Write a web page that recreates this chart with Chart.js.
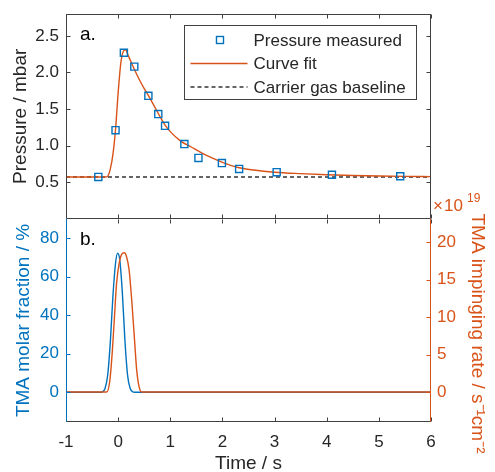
<!DOCTYPE html>
<html>
<head>
<meta charset="utf-8">
<script src="https://cdn.jsdelivr.net/npm/chart.js@4"></script>
<style>
html, body { margin: 0; padding: 0; background: #fff; overflow: hidden; width: 495px; height: 472px; }
#chartTop { position: absolute; left: 0; top: 0; }
#chartBot { position: absolute; left: 0; top: 185px; }
</style>
</head>
<body>
<canvas id="chartTop" width="495" height="225"></canvas>
<canvas id="chartBot" width="495" height="295"></canvas>
<script>
// ticks
const xTicks = [-1, 0, 1, 2, 3, 4, 5, 6];
const pressureTicks = [0.5, 1.0, 1.5, 2.0, 2.5];
const fractionTicks = [0, 20, 40, 60, 80];
const rateTicks = [0, 5, 10, 15, 20];

// panel a
const measuredTime = [-0.38, -0.05, 0.11, 0.31, 0.58, 0.77, 0.90, 1.27, 1.54, 1.99, 2.32, 3.04, 4.10, 5.41];
const measuredPressure = [0.57, 1.21, 2.27, 2.08, 1.68, 1.43, 1.27, 1.02, 0.83, 0.76, 0.68, 0.635, 0.60, 0.58];

const fitTime = [-1, -0.5, -0.25, -0.2, -0.15, -0.1, -0.05, 0, 0.05, 0.1, 0.14, 0.2, 0.3, 0.4, 0.5, 0.6, 0.7, 0.8, 0.9, 1.0, 1.2, 1.4, 1.6, 1.8, 2.0, 2.3, 2.6, 3.0, 3.5, 4.0, 4.5, 5.0, 5.5, 6.0];
const fitPressure = [0.57, 0.57, 0.57, 0.58, 0.68, 0.88, 1.22, 1.72, 2.12, 2.29, 2.31, 2.22, 2.06, 1.91, 1.78, 1.66, 1.53, 1.40, 1.28, 1.19, 1.06, 0.98, 0.90, 0.83, 0.77, 0.70, 0.665, 0.635, 0.615, 0.60, 0.59, 0.583, 0.578, 0.575];

const baselineTime = [-1, 6];
const baselinePressure = [0.57, 0.57];

// panel b
const fractionTime = [-1, -0.32, -0.3, -0.25, -0.2, -0.15, -0.1, -0.05, -0.01, 0.03, 0.08, 0.13, 0.18, 0.23, 0.28, 0.32, 6];
const fractionValue = [0, 0, 0.2, 2, 9, 26, 50, 67, 72.2, 69, 52, 27, 9, 2, 0.2, 0, 0];

const rateTime = [-1, -0.22, -0.16, -0.11, -0.07, -0.03, 0.02, 0.07, 0.12, 0.16, 0.21, 0.26, 0.31, 0.355, 0.40, 0.45, 6];
const rateValue = [0, 0, 1.5, 5.6, 10.1, 14.5, 17.2, 18.4, 18.6, 18.1, 16.3, 12.3, 7.4, 3.0, 0.75, 0, 0];

const rateTitle = 'TMA impinging rate / s\u207b\u00b9cm\u207b\u00b2';

const BLUE = '#0072BD';
const ORANGE = '#D95319';
const AXIS = '#404040';
const TEXT = '#262626';
const FONT = "'Liberation Sans', Arial, sans-serif";

function pts(xs, ys) {
    return xs.map((x, i) => ({ x: x, y: ys[i] }));
}

function fixTicks(list) {
    return function (s) { s.ticks = list.map(v => ({ value: v })); };
}

function fitWidth(w) {
    return function (s) { s.width = w; s.paddingTop = 0; s.paddingBottom = 0; };
}
function fitHeight(h) {
    return function (s) { s.height = h; s.paddingLeft = 0; s.paddingRight = 0; };
}

// box + inward ticks, like matlab
const framePlugin = {
    id: 'frame',
    afterDraw(chart, args, o) {
        const { ctx, chartArea: a, scales } = chart;
        const L = Math.round(a.left) + 0.5, R = Math.round(a.right) - 0.5;
        const T = Math.round(a.top) + 0.5, B = Math.round(a.bottom) - 0.5;
        const len = 4;
        ctx.save();
        ctx.lineWidth = 1;

        // x ticks
        ctx.strokeStyle = AXIS;
        ctx.beginPath();
        scales.x.ticks.forEach(t => {
            const px = Math.round(scales.x.getPixelForValue(t.value)) + 0.5;
            ctx.moveTo(px, B); ctx.lineTo(px, B - len);
            ctx.moveTo(px, T); ctx.lineTo(px, T + len);
        });
        ctx.stroke();

        // left ticks
        const ly = scales[o.leftScale];
        ctx.strokeStyle = o.leftColor;
        ctx.beginPath();
        ly.ticks.forEach(t => {
            const py = Math.round(ly.getPixelForValue(t.value)) + 0.5;
            ctx.moveTo(L, py); ctx.lineTo(L + len, py);
        });
        ctx.stroke();

        // right ticks
        const ry = scales[o.rightScale];
        ctx.strokeStyle = o.rightColor;
        ctx.beginPath();
        ry.ticks.forEach(t => {
            const py = Math.round(ry.getPixelForValue(t.value)) + 0.5;
            ctx.moveTo(R, py); ctx.lineTo(R - len, py);
        });
        ctx.stroke();

        // box lines
        ctx.strokeStyle = AXIS;
        ctx.beginPath();
        ctx.moveTo(L, B); ctx.lineTo(R, B);
        if (o.drawTop) { ctx.moveTo(L, T); ctx.lineTo(R, T); }
        ctx.stroke();
        ctx.strokeStyle = o.leftColor;
        ctx.beginPath(); ctx.moveTo(L, a.top); ctx.lineTo(L, a.bottom); ctx.stroke();
        ctx.strokeStyle = o.rightColor;
        ctx.beginPath(); ctx.moveTo(R, a.top); ctx.lineTo(R, a.bottom); ctx.stroke();

        // panel letter
        ctx.fillStyle = '#000';
        ctx.font = '19px ' + FONT;
        ctx.textAlign = 'left';
        ctx.textBaseline = 'middle';
        ctx.fillText(o.letter, a.left + 14, a.top + 21);

        if (o.exponent) {
            ctx.fillStyle = ORANGE;
            ctx.font = '17px ' + FONT;
            ctx.textBaseline = 'alphabetic';
            ctx.fillText('\u00d7', a.right + 2, a.top - 8);
            ctx.fillText('10', a.right + 13, a.top - 8);
            ctx.font = '12px ' + FONT;
            ctx.fillText(o.exponent, a.right + 36, a.top - 17);
        }
        if (o.rightTitle) {
            // right label sits a bit lower than the axis middle, as in matlab
            ctx.save();
            ctx.translate(chart.width - 18, (a.top + a.bottom) / 2 + 13);
            ctx.rotate(Math.PI / 2);
            ctx.fillStyle = o.rightColor;
            ctx.font = '19px ' + FONT;
            ctx.textAlign = 'center';
            ctx.textBaseline = 'middle';
            ctx.fillText(o.rightTitle, 0, 0);
            ctx.restore();
        }
        ctx.restore();
    }
};

// legend inside panel a
const legendBox = {
    id: 'legendBox',
    afterDraw(chart) {
        const { ctx, chartArea: a } = chart;
        const x0 = Math.round(a.left + 118) + 0.5, y0 = Math.round(a.top + 11) + 0.5;
        const x1 = Math.round(a.right - 15) + 0.5, y1 = Math.round(a.top + 85) + 0.5;
        ctx.save();
        ctx.fillStyle = '#fff';
        ctx.fillRect(x0, y0, x1 - x0, y1 - y0);
        ctx.strokeStyle = AXIS;
        ctx.lineWidth = 1;
        ctx.strokeRect(x0, y0, x1 - x0, y1 - y0);
        ctx.font = '17px ' + FONT;
        ctx.textBaseline = 'middle';
        ctx.textAlign = 'left';
        chart.data.datasets.forEach((ds, i) => {
            const yy = a.top + 26 + i * 23.5;
            if (ds.showLine) {
                ctx.strokeStyle = ds.borderColor;
                ctx.lineWidth = ds.borderWidth;
                ctx.setLineDash(ds.borderDash || []);
                ctx.beginPath();
                ctx.moveTo(x0 + 6, yy); ctx.lineTo(x0 + 63, yy);
                ctx.stroke();
                ctx.setLineDash([]);
            } else {
                ctx.strokeStyle = ds.pointBorderColor;
                ctx.lineWidth = ds.pointBorderWidth;
                ctx.strokeRect(x0 + 32, yy - 3.5, 7, 7);
            }
            ctx.fillStyle = TEXT;
            ctx.fillText(ds.label, x0 + 69, yy + 1);
        });
        ctx.restore();
    }
};

const noGrid = { display: false, drawTicks: false };

var chartTop = new Chart(document.getElementById('chartTop').getContext('2d'), {
    type: 'scatter',
    data: {
        datasets: [{
            label: 'Pressure measured',
            data: pts(measuredTime, measuredPressure),
            showLine: false,
            pointStyle: 'rect',
            pointRadius: 5,
            pointBorderWidth: 1.4,
            pointBorderColor: BLUE,
            pointBackgroundColor: 'rgba(0,0,0,0)',
            order: 0
        }, {
            label: 'Curve fit',
            data: pts(fitTime, fitPressure),
            showLine: true,
            borderColor: ORANGE,
            borderWidth: 1.4,
            pointRadius: 0,
            cubicInterpolationMode: 'monotone',
            order: 1
        }, {
            label: 'Carrier gas baseline',
            data: pts(baselineTime, baselinePressure),
            showLine: true,
            borderColor: '#333',
            borderWidth: 1.4,
            borderDash: [4, 3],
            pointRadius: 0,
            order: 2
        }]
    },
    options: {
        responsive: false,
        animation: false,
        layout: { padding: { top: 14, right: 64, left: 0, bottom: 0 } },
        plugins: {
            legend: { display: false },
            tooltip: { enabled: false },
            frame: { leftScale: 'y', rightScale: 'y', leftColor: AXIS, rightColor: AXIS, drawTop: true, letter: 'a.' }
        },
        scales: {
            x: {
                type: 'linear', min: -1, max: 6,
                afterBuildTicks: fixTicks(xTicks),
                afterFit: fitHeight(6),
                grid: noGrid, border: { display: false },
                ticks: { display: false }
            },
            y: {
                type: 'linear', min: 0, max: 2.8,
                afterBuildTicks: fixTicks(pressureTicks),
                afterFit: fitWidth(66),
                grid: noGrid, border: { display: false },
                ticks: { padding: 7, color: TEXT, font: { family: FONT, size: 17 }, callback: v => v.toFixed(1) },
                title: { display: true, text: 'Pressure / mbar', color: TEXT, font: { family: FONT, size: 19 }, padding: { top: 9, bottom: 0 } }
            }
        }
    },
    plugins: [framePlugin, legendBox]
});

var chartBot = new Chart(document.getElementById('chartBot').getContext('2d'), {
    type: 'scatter',
    data: {
        datasets: [{
            label: 'TMA molar fraction',
            data: pts(fractionTime, fractionValue),
            showLine: true,
            borderColor: BLUE,
            borderWidth: 1.4,
            pointRadius: 0,
            cubicInterpolationMode: 'monotone',
            yAxisID: 'y',
            order: 1
        }, {
            label: 'TMA impinging rate',
            data: pts(rateTime, rateValue),
            showLine: true,
            borderColor: ORANGE,
            borderWidth: 1.4,
            pointRadius: 0,
            cubicInterpolationMode: 'monotone',
            yAxisID: 'y2',
            order: 0
        }]
    },
    options: {
        responsive: false,
        animation: false,
        layout: { padding: { top: 34, right: 0, left: 0, bottom: 0 } },
        plugins: {
            legend: { display: false },
            tooltip: { enabled: false },
            frame: { leftScale: 'y', rightScale: 'y2', leftColor: BLUE, rightColor: ORANGE, drawTop: false, letter: 'b.', exponent: '19', rightTitle: rateTitle }
        },
        scales: {
            x: {
                type: 'linear', min: -1, max: 6,
                afterBuildTicks: fixTicks(xTicks),
                afterFit: fitHeight(58),
                grid: noGrid, border: { display: false },
                ticks: { padding: 10, color: TEXT, font: { family: FONT, size: 17 } },
                title: { display: true, text: 'Time / s', color: TEXT, font: { family: FONT, size: 19 }, padding: { top: 0, bottom: 5 } }
            },
            y: {
                type: 'linear', position: 'left', min: -15.5, max: 90,
                afterBuildTicks: fixTicks(fractionTicks),
                afterFit: fitWidth(66),
                grid: noGrid, border: { display: false },
                ticks: { padding: 7, color: BLUE, font: { family: FONT, size: 17 } },
                title: { display: true, text: 'TMA molar fraction / %', color: BLUE, font: { family: FONT, size: 19 }, padding: { top: 12, bottom: 0 } }
            },
            y2: {
                type: 'linear', position: 'right', min: -4, max: 23.1,
                afterBuildTicks: fixTicks(rateTicks),
                afterFit: fitWidth(64),
                grid: noGrid, border: { display: false },
                ticks: { padding: 6, color: ORANGE, font: { family: FONT, size: 17 } },
                title: { display: false }
            }
        }
    },
    plugins: [framePlugin]
});
</script>
</body>
</html>
